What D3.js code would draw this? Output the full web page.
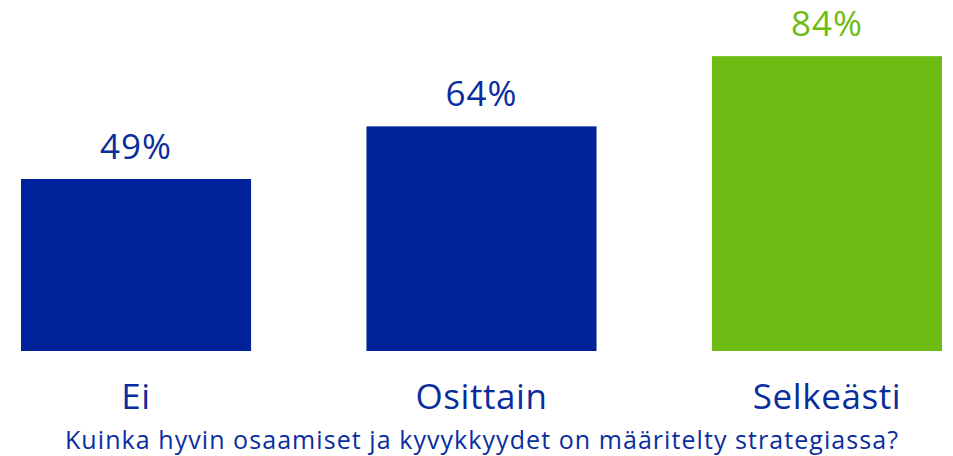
<!DOCTYPE html>
<html><head><meta charset="utf-8">
<script src="https://cdn.jsdelivr.net/npm/d3@7"></script>
<style>html,body{margin:0;padding:0;background:#fff}svg{display:block}</style>
</head><body>
<script>
const categories = ["Ei", "Osittain", "Selkeästi"];
const values = [49, 64, 84];
const barColors = ["#00239C", "#00239C", "#6EBB14"];
const labelColors = ["#0A2D9E", "#0A2D9E", "#6EBB14"];
const axisTitle = "Kuinka hyvin osaamiset ja kyvykkyydet on määritelty strategiassa?";

const W = 953, H = 456;
const svg = d3.select("body").append("svg").attr("width", W).attr("height", H);
const font = "'Open Sans', sans-serif";

const x = d3.scaleBand().domain(categories).range([21, 942]).paddingInner(0.334).paddingOuter(0);
const y = d3.scaleLinear().domain([0, 100]).range([351, 0]);

svg.selectAll("rect.bar").data(values).join("rect")
  .attr("x", (d, i) => x(categories[i]))
  .attr("width", x.bandwidth())
  .attr("y", d => y(d))
  .attr("height", d => y(0) - y(d))
  .attr("fill", (d, i) => barColors[i]);

svg.selectAll("text.val").data(values).join("text")
  .attr("x", (d, i) => x(categories[i]) + x.bandwidth() / 2)
  .attr("y", d => y(d) - 20)
  .attr("text-anchor", "middle")
  .attr("font-family", font).attr("font-size", 35).attr("letter-spacing", 1)
  .attr("fill", (d, i) => labelColors[i])
  .text(d => d + "%");

const xAxis = svg.append("g").attr("transform", "translate(0,351)")
  .call(d3.axisBottom(x).tickSize(0).tickPadding(0));
xAxis.select(".domain").remove();
xAxis.selectAll("text").attr("dy", null).attr("y", 58)
  .attr("font-family", font).attr("font-size", 35).attr("letter-spacing", 0.6).attr("fill", "#0A2D9E");

svg.append("text").attr("x", 481.5).attr("y", 449).attr("text-anchor", "middle")
  .attr("font-family", font).attr("font-size", 25).attr("fill", "#0A2D9E")
  .attr("textLength", 833).attr("lengthAdjust", "spacing")
  .text(axisTitle);
</script>
</body></html>
